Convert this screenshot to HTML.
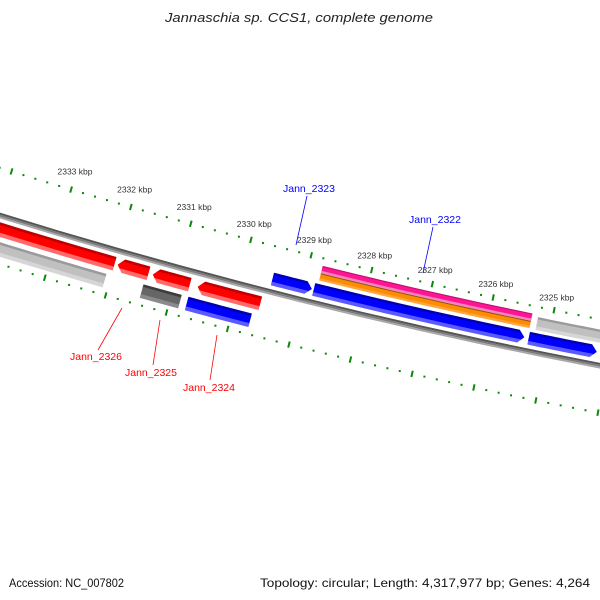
<!DOCTYPE html>
<html><head><meta charset="utf-8"><style>
html,body{margin:0;padding:0;background:#fff;}
svg{display:block;font-family:"Liberation Sans","DejaVu Sans",sans-serif;}
</style></head><body>
<svg id="map" width="600" height="600" viewBox="0 0 600 600" xmlns="http://www.w3.org/2000/svg">
<rect width="600" height="600" fill="#fff"/>
<text x="165" y="22" textLength="268" lengthAdjust="spacingAndGlyphs" font-size="12.5" font-style="italic" fill="#222">Jannaschia sp. CCS1, complete genome</text>
<g id="backbone-g"></g>
<g id="ticks-g"></g>
<g id="feat-g"></g>
<g font-size="10.5">
 <line x1="307" y1="196" x2="296" y2="245" stroke="#00f" stroke-width="0.8"/>
 <text x="283" y="192" fill="#00f">Jann_2323</text>
 <line x1="433" y1="227" x2="423" y2="273" stroke="#00f" stroke-width="0.8"/>
 <text x="409" y="223" fill="#00f">Jann_2322</text>
 <line x1="122" y1="308" x2="98" y2="350" stroke="#f00" stroke-width="0.8"/>
 <text x="70" y="360" fill="#f00">Jann_2326</text>
 <line x1="160" y1="320" x2="153" y2="365" stroke="#f00" stroke-width="0.8"/>
 <text x="125" y="376" fill="#f00">Jann_2325</text>
 <line x1="217" y1="335" x2="210" y2="380" stroke="#f00" stroke-width="0.8"/>
 <text x="183" y="391" fill="#f00">Jann_2324</text>
</g>
<text x="9" y="587" font-size="12" textLength="115" lengthAdjust="spacingAndGlyphs" fill="#111">Accession: NC_007802</text>
<text x="260" y="587" font-size="12" textLength="330" lengthAdjust="spacingAndGlyphs" fill="#111">Topology: circular; Length: 4,317,977 bp; Genes: 4,264</text>
</svg>
<script>
// feature data (kbp)
const featStart = [2336.0, 2330.95, 2330.37, 2329.63, 2336.0, 2330.47, 2329.73, 2328.51, 2327.83, 2324.31, 2323.13, 2327.78, 2324.23, 2327.78];
const featEnd   = [2331.00, 2330.44, 2329.76, 2328.60, 2331.08, 2329.84, 2328.69, 2327.86, 2324.38, 2323.20, 2321.5, 2324.33, 2323.13, 2324.33];
const featTrack = ["A","A","A","A","B","B","B","C","C","C","C","O","D","P"];
const featStrand = [-1,-1,-1,-1,0,0,0,1,1,1,1,0,0,0];
const featColor = ["red","red","red","red","lightgray","darkgray","blue","blue","blue","blue","blue","orange","lightgray","pink"];
const tickStart = 2334, tickEnd = 2322;
const tickLabels = ["2333 kbp","2332 kbp","2331 kbp","2330 kbp","2329 kbp","2328 kbp","2327 kbp","2326 kbp","2325 kbp"];
const tickLabelKbp = [2333,2332,2331,2330,2329,2328,2327,2326,2325];

const CX=1658, CY=-5135, A0=101.46, K0=2324, DEG=0.642;
function pt(kbp,r){const a=(A0+(kbp-K0)*DEG)*Math.PI/180;return [CX+r*Math.cos(a),CY+r*Math.sin(a)];}
const tracks={A:[5608,5622],B:[5627,5641],C:[5582,5595],D:[5566,5579],O:[5571,5578.5],P:[5563.5,5571]};
const palette={red:["#c00000","#ff0000","#ff6a6a"],lightgray:["#9a9a9a","#c0c0c0","#d6d6d6"],darkgray:["#3c3c3c","#666","#8a8a8a"],
blue:["#0000b0","#0000ff","#5a5aff"],orange:["#8a5a10","#ff8c00","#ffa640"],pink:["#c01070","#ff1493","#ff80c0"]};
const NS="http://www.w3.org/2000/svg";
function arcPts(s,e,r){const n=12,out=[];for(let i=0;i<=n;i++){out.push(pt(s+(e-s)*i/n,r));}return out;}
function bandPath(s,e,r1,r2){const a=arcPts(s,e,r1),b=arcPts(s,e,r2).reverse();return "M"+a.concat(b).map(p=>p[0].toFixed(2)+","+p[1].toFixed(2)).join("L")+"Z";}
function arrowPath(s,e,r1,r2,strand){
 const rm=(r1+r2)/2, hk=6/(rm*DEG*Math.PI/180);
 if(strand===0) return bandPath(s,e,r1,r2);
 if(strand===1){const eb=e+hk;const a=arcPts(s,eb,r1),b=arcPts(s,eb,r2).reverse();const t=pt(e,rm);
  return "M"+a.concat([t]).concat(b).map(p=>p[0].toFixed(2)+","+p[1].toFixed(2)).join("L")+"Z";}
 const sb=s-hk;const a=arcPts(sb,e,r1),b=arcPts(sb,e,r2).reverse();const t=pt(s,rm);
 return "M"+a.concat(b).concat([t]).map(p=>p[0].toFixed(2)+","+p[1].toFixed(2)).join("L")+"Z";
}
const svg=document.getElementById('map');
const defs=document.createElementNS(NS,'defs');svg.insertBefore(defs,svg.firstChild);
// backbone
const bb=document.getElementById('backbone-g');
[[5598.8,5600.8,"#555"],[5600.8,5602.6,"#7a7a7a"],[5602.6,5604.4,"#a8a8a8"]].forEach(function(q){
 const p=document.createElementNS(NS,'path');
 
 
 p.setAttribute('d',bandPath(tickStart,tickEnd,q[0],q[1]));p.setAttribute('fill',q[2]);bb.appendChild(p);
});
// ticks
const tg=document.getElementById('ticks-g');
[5556,5648].forEach(function(R){
 for(let i=0;i<=Math.round((tickStart-tickEnd)*5);i++){
  const k=tickStart-i*0.2;const major=Math.abs(k-Math.round(k))<1e-6;
  if(major){const a=pt(k,R-3.2),b=pt(k,R+3.2);const l=document.createElementNS(NS,'line');
   
   
   l.setAttribute('x1',a[0]);l.setAttribute('y1',a[1]);l.setAttribute('x2',b[0]);l.setAttribute('y2',b[1]);
   l.setAttribute('stroke','#0a8a0a');l.setAttribute('stroke-width','2');tg.appendChild(l);}
  else{const c=pt(k,R);const d=document.createElementNS(NS,'rect');
   
   
   d.setAttribute('x',c[0]-1);d.setAttribute('y',c[1]-1);d.setAttribute('width',2);d.setAttribute('height',2);
   d.setAttribute('fill','#0a8a0a');tg.appendChild(d);}
 }
});
tickLabels.forEach(function(lbl,i){const c=pt(tickLabelKbp[i],5556);const t=document.createElementNS(NS,'text');
 
 
 t.setAttribute('x',(c[0]+46).toFixed(1));t.setAttribute('y',(c[1]+3).toFixed(1));t.setAttribute('font-size','8.5');t.setAttribute('fill','#333');
 t.textContent=lbl;tg.appendChild(t);});
// features
const fg=document.getElementById('feat-g');
featStart.forEach(function(s,i){
 const e=featEnd[i],tr=tracks[featTrack[i]],col=palette[featColor[i]];
 const cp=document.createElementNS(NS,'clipPath');cp.setAttribute('id','cp'+i);
 const cpp=document.createElementNS(NS,'path');cpp.setAttribute('d',arrowPath(s,e,tr[0],tr[1],featStrand[i]));cp.appendChild(cpp);defs.appendChild(cp);
 const g=document.createElementNS(NS,'g');
 
 
 g.setAttribute('clip-path','url(#cp'+i+')');
 const w=tr[1]-tr[0];const cuts=[tr[0],tr[0]+w*0.22,tr[0]+w*0.75,tr[1]];
 const s2=s+0.2,e2=e-0.2;
 for(let j=0;j<3;j++){const p=document.createElementNS(NS,'path');
  
  
  p.setAttribute('d',bandPath(s2,e2,cuts[j]-0.5,cuts[j+1]+0.5));p.setAttribute('fill',col[j]);g.appendChild(p);}
 fg.appendChild(g);
});
</script>
</body></html>
